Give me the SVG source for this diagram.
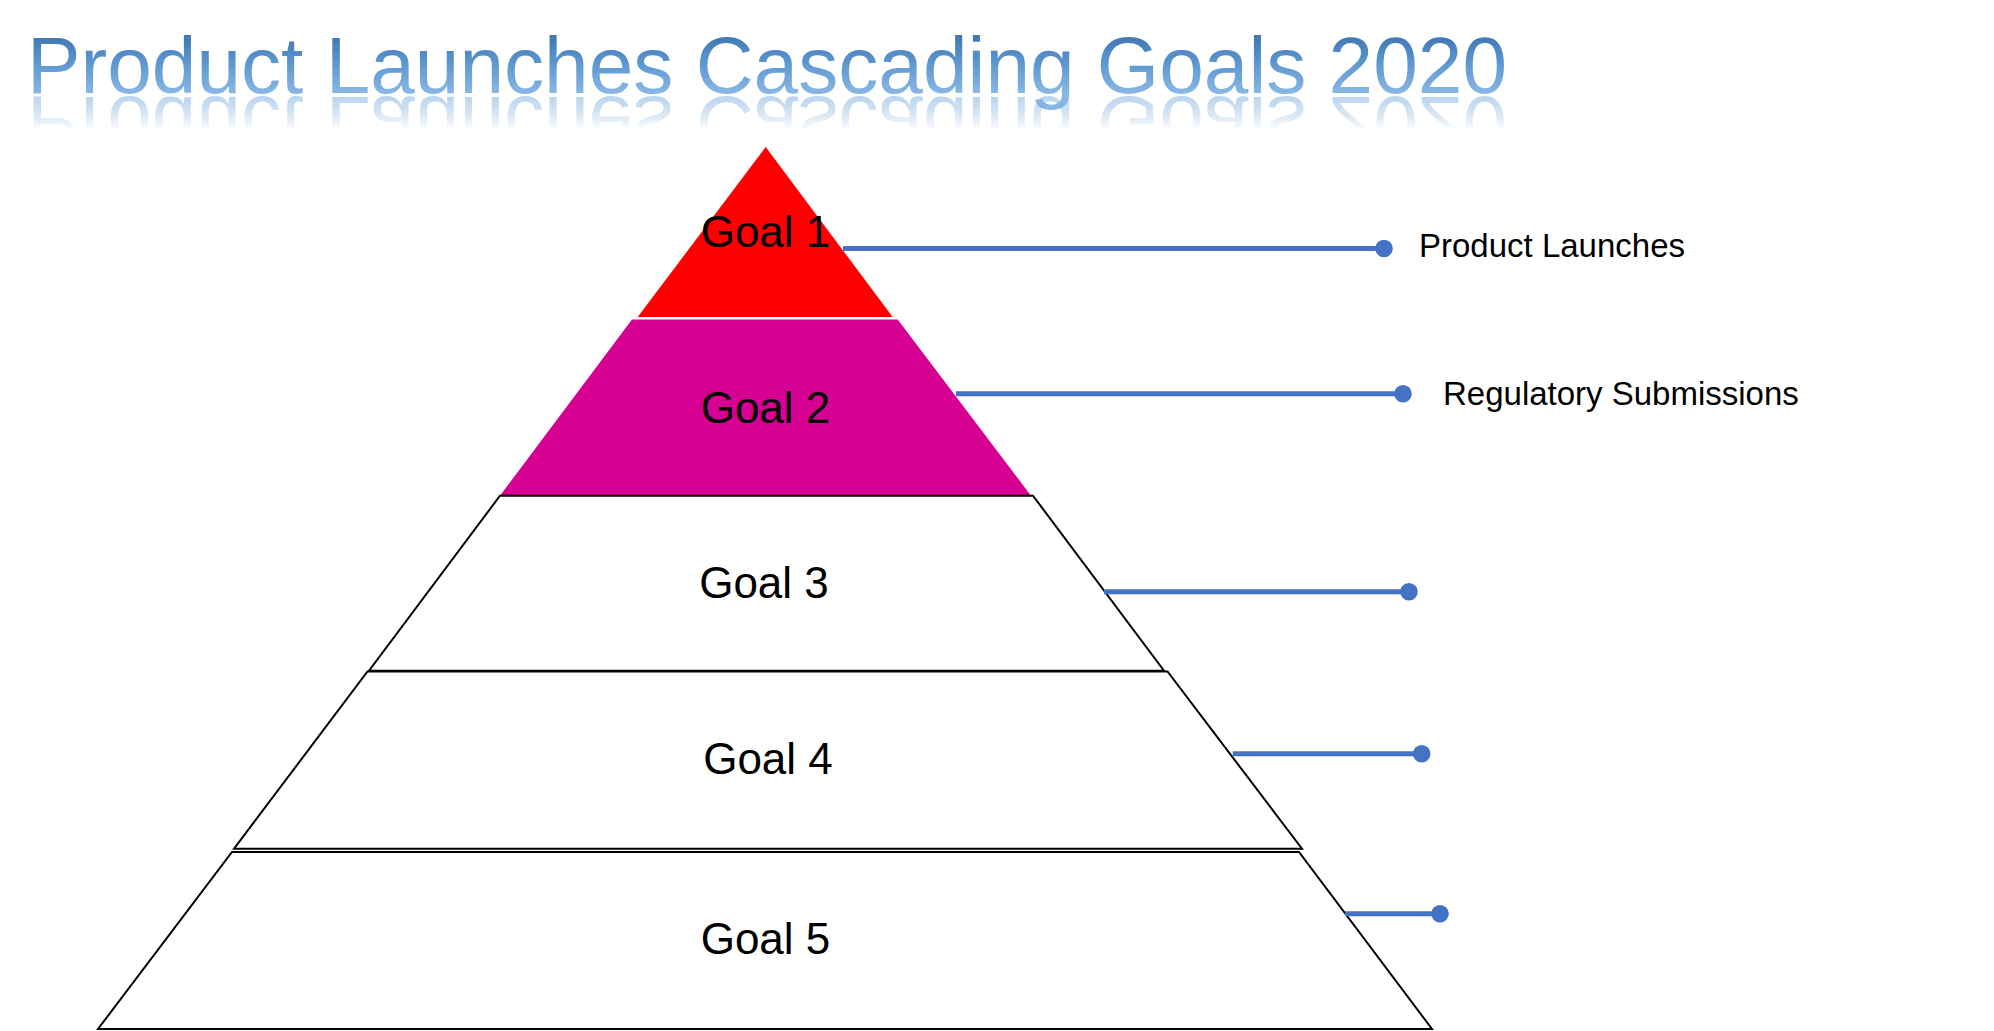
<svg xmlns="http://www.w3.org/2000/svg" xmlns:xlink="http://www.w3.org/1999/xlink" width="1994" height="1031" viewBox="0 0 1994 1031">
  <defs>
    <linearGradient id="titleGrad" x1="0" y1="30" x2="0" y2="93" gradientUnits="userSpaceOnUse">
      <stop offset="0" stop-color="#3a70aa"/>
      <stop offset="0.5" stop-color="#5b95cf"/>
      <stop offset="1" stop-color="#88b7e4"/>
    </linearGradient>
    <linearGradient id="fadeGrad" x1="0" y1="95" x2="0" y2="130" gradientUnits="userSpaceOnUse">
      <stop offset="0" stop-color="#fff" stop-opacity="0.6"/>
      <stop offset="1" stop-color="#fff" stop-opacity="0"/>
    </linearGradient>
    <mask id="reflMask" maskUnits="userSpaceOnUse" x="0" y="90" width="1994" height="50">
      <rect x="0" y="90" width="1994" height="50" fill="url(#fadeGrad)"/>
    </mask>
    <marker id="dot" markerUnits="userSpaceOnUse" viewBox="-10 -10 20 20" markerWidth="20" markerHeight="20" refX="0" refY="0" orient="auto">
      <circle cx="0" cy="0" r="8.8" fill="#4472C4"/>
    </marker>
  </defs>
  <style>
    .title { font-family: "Liberation Sans", Arial, sans-serif; font-size: 80px; fill: url(#titleGrad); }
    .goal { font-family: "Liberation Sans", Arial, sans-serif; font-size: 44px; fill: #000; text-anchor: middle; }
    .side { font-family: "Liberation Sans", Arial, sans-serif; font-size: 33px; fill: #000; }
    .tier { stroke: #000; stroke-width: 2; fill: #fff; stroke-linejoin: miter; }
    .conn { stroke: #4472C4; stroke-width: 5; fill: none; marker-end: url(#dot); }
  </style>
  <rect x="0" y="0" width="1994" height="1031" fill="#fff"/>

  <g id="title">
    <text id="titleText" class="title" x="27" y="93" textLength="1480" lengthAdjust="spacingAndGlyphs">Product Launches Cascading Goals 2020</text>
    <g mask="url(#reflMask)">
      <use href="#titleText" xlink:href="#titleText" transform="translate(0,190) scale(1,-1)"/>
    </g>
  </g>

  <g id="goal1">
    <polygon points="765.7,147 892.7,317 637.7,317" fill="#FF0000"/>
    <text class="goal" x="765.5" y="247">Goal 1</text>
  </g>
  <g id="goal2">
    <polygon points="632,319.5 897.7,319.5 1031,495.7 500,495.7" fill="#D60093"/>
    <text class="goal" x="765.5" y="423">Goal 2</text>
  </g>
  <g id="goal3">
    <polygon class="tier" points="500,495.7 1033,495.7 1164,670.7 369,670.7"/>
    <text class="goal" x="764" y="598">Goal 3</text>
  </g>
  <g id="goal4">
    <polygon class="tier" points="367.5,671.5 1167.5,671.5 1302,848.7 234,848.7"/>
    <text class="goal" x="768" y="774">Goal 4</text>
  </g>
  <g id="goal5">
    <polygon class="tier" points="232,852 1299,852 1432,1029 98,1029"/>
    <text class="goal" x="765.5" y="954">Goal 5</text>
  </g>

  <g id="connectors">
    <line class="conn" x1="843" y1="248.5" x2="1384" y2="248.5"/>
    <line class="conn" x1="956" y1="393.7" x2="1403" y2="393.7"/>
    <line class="conn" x1="1104" y1="591.7" x2="1409" y2="591.7"/>
    <line class="conn" x1="1232.7" y1="753.7" x2="1421.7" y2="753.7"/>
    <line class="conn" x1="1345" y1="913.7" x2="1440" y2="913.7"/>
  </g>

  <g id="label-product-launches">
    <text class="side" x="1419" y="256.7">Product Launches</text>
  </g>
  <g id="label-regulatory-submissions">
    <text class="side" x="1443" y="405">Regulatory Submissions</text>
  </g>
</svg>
